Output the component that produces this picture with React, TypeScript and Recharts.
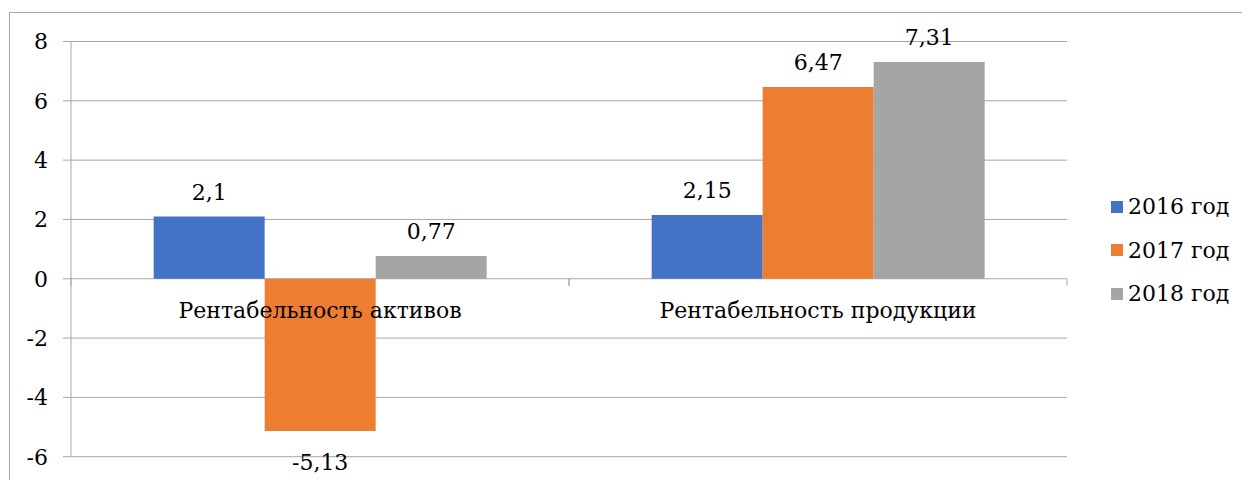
import React from "react";
import { BarChart, Bar, XAxis, YAxis, CartesianGrid, LabelList } from "recharts";

const categories = ["Рентабельность активов", "Рентабельность продукции"];
const seriesNames = ["2016 год", "2017 год", "2018 год"];
const values2016 = [2.1, 2.15];
const values2017 = [-5.13, 6.47];
const values2018 = [0.77, 7.31];
const yTicks = [-6, -4, -2, 0, 2, 4, 6, 8];
const colors = ["#4472C4", "#ED7D31", "#A5A5A5"];

const data = categories.map((c, i) => ({
  name: c,
  s2016: values2016[i],
  s2017: values2017[i],
  s2018: values2018[i],
}));
const keys = ["s2016", "s2017", "s2018"];

const W = 1242;
const H = 480;
const M_TOP = 41.5;
const M_BOTTOM = 22.3;
const X_AXIS_H = 1;
const Y_MIN = -6;
const Y_MAX = 8;
const PLOT_H = H - M_TOP - M_BOTTOM - X_AXIS_H;
const ZERO_Y = M_TOP + (PLOT_H * Y_MAX) / (Y_MAX - Y_MIN);
const FONT = "DejaVu Serif";
const FS = 22;
const GRID = "#a6a6a6";

const fmt = (v: number) => String(v).replace(".", ",");

const CategoryTick = (props: any) => {
  const { x, payload } = props;
  const off = payload && payload.offset != null ? payload.offset : 249;
  return (
    <g>
      <text
        x={x}
        y={ZERO_Y + 32}
        textAnchor="middle"
        dominantBaseline="central"
        fontFamily={FONT}
        fontSize={FS}
        fill="#000"
      >
        {payload.value}
      </text>
      <line x1={x + off} x2={x + off} y1={ZERO_Y} y2={ZERO_Y + 7} stroke={GRID} strokeWidth={1} />
      <line x1={x - off} x2={x - off} y1={ZERO_Y} y2={ZERO_Y + 7} stroke={GRID} strokeWidth={1} />
    </g>
  );
};

const ValueLabel = (props: any) => {
  const { x, y, width, height, value } = props;
  const top = Math.min(y, y + height);
  const bottom = Math.max(y, y + height);
  const cy = value >= 0 ? top - 24 : bottom + 32;
  return (
    <text
      x={x + width / 2}
      y={cy}
      textAnchor="middle"
      dominantBaseline="central"
      fontFamily={FONT}
      fontSize={FS}
      fill="#000"
    >
      {fmt(value)}
    </text>
  );
};

export default function App() {
  return (
    <div
      style={{
        position: "fixed",
        left: 0,
        top: 0,
        width: W,
        height: H,
        overflow: "hidden",
        background: "#fff",
      }}
    >
      <div
        style={{
          position: "absolute",
          left: 9,
          top: 12,
          width: 1400,
          height: 700,
          border: "1px solid #a6a6a6",
        }}
      />
      <div style={{ position: "absolute", left: 0, top: 0 }}>
        <BarChart
          width={W}
          height={H}
          data={data}
          margin={{ top: M_TOP, right: 175, left: 0, bottom: M_BOTTOM }}
          barCategoryGap="16.6%"
          barGap={0}
        >
          <CartesianGrid vertical={false} stroke={GRID} strokeWidth={1} />
          <XAxis
            dataKey="name"
            height={X_AXIS_H}
            axisLine={false}
            tickLine={false}
            tick={<CategoryTick />}
            interval={0}
          />
          <YAxis
            width={71}
            domain={[Y_MIN, Y_MAX]}
            ticks={yTicks}
            interval={0}
            allowDataOverflow
            axisLine={{ stroke: GRID, strokeWidth: 1 }}
            tickLine={{ stroke: GRID, strokeWidth: 1 }}
            tickSize={8}
            tickMargin={15}
            tick={{ fontFamily: FONT, fontSize: FS, fill: "#000" }}
          />
          {keys.map((k, i) => (
            <Bar key={k} dataKey={k} fill={colors[i]} isAnimationActive={false}>
              <LabelList dataKey={k} content={<ValueLabel />} />
            </Bar>
          ))}
        </BarChart>
      </div>
      <div style={{ position: "absolute", left: 1111, top: 185 }}>
        {seriesNames.map((n, i) => (
          <div
            key={n}
            style={{
              display: "flex",
              alignItems: "center",
              height: 43.5,
              fontFamily: FONT,
              fontSize: FS,
              color: "#000",
            }}
          >
            <span
              style={{
                display: "inline-block",
                width: 12,
                height: 12,
                background: colors[i],
                marginRight: 5,
              }}
            />
            <span>{n}</span>
          </div>
        ))}
      </div>
    </div>
  );
}
